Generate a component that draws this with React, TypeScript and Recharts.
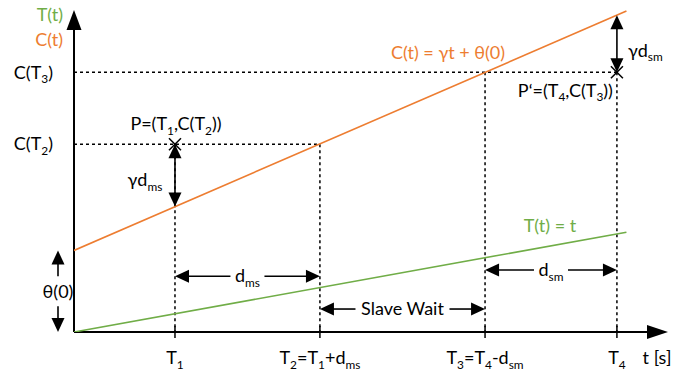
import React from "react";
import { Line, LineChart, ReferenceDot, ReferenceLine, XAxis, YAxis } from "recharts";

// times on the x axis (T1..T4) and tick labels
const tickTimes = [1.7, 4.14, 6.92, 9.14];
const tickLabels = ["T_{1}", "T_{2}=T_{1}+d_{ms}", "T_{3}=T_{4}-d_{sm}", "T_{4}"];
// clock value C(t) read at T1..T4
const clockLevels = [11.7, 17.5, 24.2, 29.5];
const theta0 = 7.6;
// the two lines
const clockLine = [
  { x: 0, y: 7.6 },
  { x: 9.3, y: 29.9 },
];
const timeLine = [
  { x: 0, y: 0 },
  { x: 9.3, y: 9.3 },
];
// heights of the horizontal interval arrows
const dmsLevel = 5.2;
const waitLevel = 2.14;
const dsmLevel = 5.78;

const [T1, T2, T3, T4] = tickTimes;
const [cT1, cT2, cT3, cT4] = clockLevels;

const FONT = "Lato, 'Noto Sans', sans-serif";
const ORANGE = "#ED7D31";
const GREEN = "#70AD47";
const SIZE = 18;

const parse = (s: string) =>
  s
    .split(/(_\{[^}]*\})/)
    .filter(Boolean)
    .map((p) => (p.startsWith("_{") ? { t: p.slice(2, -1), sub: true } : { t: p, sub: false }));

const Rich = ({ x, y, text, anchor = "middle", color = "#000", size = SIZE }: any) => {
  const parts = parse(text);
  let down = false;
  return (
    <text x={x} y={y + size * 0.35} textAnchor={anchor} fill={color} fontSize={size} fontFamily={FONT}>
      {parts.map((p, i) => {
        let dy = 0;
        if (p.sub && !down) {
          dy = size * 0.24;
          down = true;
        } else if (!p.sub && down) {
          dy = -size * 0.24;
          down = false;
        }
        return (
          <tspan key={i} dy={dy} fontSize={p.sub ? size * 0.66 : size}>
            {p.t}
          </tspan>
        );
      })}
    </text>
  );
};

const headPts = (tx: number, ty: number, fx: number, fy: number, len: number, hw: number) => {
  const d = Math.hypot(tx - fx, ty - fy) || 1;
  const ux = (tx - fx) / d;
  const uy = (ty - fy) / d;
  const bx = tx - ux * len;
  const by = ty - uy * len;
  return `${tx},${ty} ${bx - uy * hw},${by + ux * hw} ${bx + uy * hw},${by - ux * hw}`;
};

const arrow =
  ({ start = false, end = true, gap = 0, dx = 0, width = 1.6, len = 14, hw = 6.5, label = "" }: any) =>
  (p: any) => {
    const x1 = p.x1 + dx;
    const x2 = p.x2 + dx;
    const y1 = p.y1;
    const y2 = p.y2;
    const d = Math.hypot(x2 - x1, y2 - y1) || 1;
    const ux = (x2 - x1) / d;
    const uy = (y2 - y1) / d;
    const mx = (x1 + x2) / 2;
    const my = (y1 + y2) / 2;
    const sx1 = start ? x1 + ux * (len - 2) : x1;
    const sy1 = start ? y1 + uy * (len - 2) : y1;
    const sx2 = end ? x2 - ux * (len - 2) : x2;
    const sy2 = end ? y2 - uy * (len - 2) : y2;
    return (
      <g>
        {gap > 0 ? (
          <>
            <line x1={sx1} y1={sy1} x2={mx - ux * gap} y2={my - uy * gap} stroke="#000" strokeWidth={width} />
            <line x1={mx + ux * gap} y1={my + uy * gap} x2={sx2} y2={sy2} stroke="#000" strokeWidth={width} />
          </>
        ) : (
          <line x1={sx1} y1={sy1} x2={sx2} y2={sy2} stroke="#000" strokeWidth={width} />
        )}
        {start && <polygon points={headPts(x1, y1, x2, y2, len, hw)} fill="#000" />}
        {end && <polygon points={headPts(x2, y2, x1, y1, len, hw)} fill="#000" />}
        {label && <Rich x={mx} y={my} text={label} />}
      </g>
    );
  };

const cross = (p: any) => (
  <g stroke="#000" strokeWidth={1.5}>
    <line x1={p.cx - 6} y1={p.cy - 6} x2={p.cx + 6} y2={p.cy + 6} />
    <line x1={p.cx - 6} y1={p.cy + 6} x2={p.cx + 6} y2={p.cy - 6} />
  </g>
);

const textAt =
  (text: string, dx: number, dy: number, anchor = "middle", color = "#000") =>
  (p: any) =>
    <Rich x={p.cx + dx} y={p.cy + dy} text={text} anchor={anchor} color={color} />;

const tickAt = (label: string) => (p: any) =>
  (
    <g>
      <line x1={p.cx} y1={p.cy - 6} x2={p.cx} y2={p.cy + 6} stroke="#000" strokeWidth={1.5} />
      <Rich x={p.cx} y={p.cy + 26} text={label} />
    </g>
  );

const dash = { stroke: "#000", strokeWidth: 1.5, strokeDasharray: "3 3", ifOverflow: "visible" as const };

export default function App() {
  return (
    <div style={{ position: "absolute", left: 0, top: 0, background: "#fff" }}>
      <LineChart width={697} height={375} margin={{ top: 10, right: 29, bottom: 43, left: 74 }}>
        <XAxis type="number" dataKey="x" domain={[0, 10]} hide allowDataOverflow />
        <YAxis type="number" dataKey="y" domain={[0, 30]} hide allowDataOverflow />

        {/* dashed guides */}
        <ReferenceLine segment={[{ x: 0, y: cT3 }, { x: T4, y: cT3 }]} {...dash} />
        <ReferenceLine segment={[{ x: 0, y: cT2 }, { x: T2, y: cT2 }]} {...dash} />
        <ReferenceLine segment={[{ x: T1, y: cT2 }, { x: T1, y: 0 }]} {...dash} />
        <ReferenceLine segment={[{ x: T2, y: cT2 }, { x: T2, y: 0 }]} {...dash} />
        <ReferenceLine segment={[{ x: T3, y: cT3 }, { x: T3, y: 0 }]} {...dash} />
        <ReferenceLine segment={[{ x: T4, y: cT3 }, { x: T4, y: 0 }]} {...dash} />

        {/* axes */}
        <ReferenceLine segment={[{ x: 0, y: 0 }, { x: 0, y: 30 }]} ifOverflow="visible" shape={arrow({ width: 2, len: 20, hw: 7.5 })} />
        <ReferenceLine segment={[{ x: 0, y: 0 }, { x: 10, y: 0 }]} ifOverflow="visible" shape={arrow({ width: 2, len: 21, hw: 7 })} />

        <Line data={clockLine} dataKey="y" stroke={ORANGE} strokeWidth={1.6} dot={false} isAnimationActive={false} />
        <Line data={timeLine} dataKey="y" stroke={GREEN} strokeWidth={1.6} dot={false} isAnimationActive={false} />

        {/* annotation arrows */}
        <ReferenceLine segment={[{ x: T1, y: cT2 }, { x: T1, y: cT1 }]} ifOverflow="visible" shape={arrow({ start: true })} />
        <ReferenceLine segment={[{ x: T4, y: cT4 }, { x: T4, y: cT3 }]} ifOverflow="visible" shape={arrow({ start: true })} />
        <ReferenceLine segment={[{ x: 0, y: 0 }, { x: 0, y: theta0 }]} ifOverflow="visible" shape={arrow({ start: true, dx: -16, gap: 15, label: "θ(0)" })} />
        <ReferenceLine segment={[{ x: T1, y: dmsLevel }, { x: T2, y: dmsLevel }]} ifOverflow="visible" shape={arrow({ start: true, gap: 17, label: "d_{ms}" })} />
        <ReferenceLine segment={[{ x: T2, y: waitLevel }, { x: T3, y: waitLevel }]} ifOverflow="visible" shape={arrow({ start: true, gap: 47, label: "Slave Wait" })} />
        <ReferenceLine segment={[{ x: T3, y: dsmLevel }, { x: T4, y: dsmLevel }]} ifOverflow="visible" shape={arrow({ start: true, gap: 17, label: "d_{sm}" })} />

        {/* markers */}
        <ReferenceDot x={T1} y={cT2} r={0} ifOverflow="visible" shape={cross} />
        <ReferenceDot x={T4} y={cT3} r={0} ifOverflow="visible" shape={cross} />

        {/* ticks */}
        {tickTimes.map((t, i) => (
          <ReferenceDot key={t} x={t} y={0} r={0} ifOverflow="visible" shape={tickAt(tickLabels[i])} />
        ))}

        {/* texts */}
        <ReferenceDot x={10} y={0} r={0} ifOverflow="visible" shape={textAt("t [s]", -11, 26)} />
        <ReferenceDot x={0} y={30} r={0} ifOverflow="visible" shape={textAt("T(t)", -11, 5, "end", GREEN)} />
        <ReferenceDot x={0} y={30} r={0} ifOverflow="visible" shape={textAt("C(t)", -11, 30, "end", ORANGE)} />
        <ReferenceDot x={0} y={cT3} r={0} ifOverflow="visible" shape={textAt("C(T_{3})", -21, 0, "end")} />
        <ReferenceDot x={0} y={cT2} r={0} ifOverflow="visible" shape={textAt("C(T_{2})", -21, 0, "end")} />
        <ReferenceDot x={T1} y={cT2} r={0} ifOverflow="visible" shape={textAt("P=(T_{1},C(T_{2}))", 1, -20)} />
        <ReferenceDot x={T1} y={cT2} r={0} ifOverflow="visible" shape={textAt("γd_{ms}", -30, 36)} />
        <ReferenceDot x={T4} y={cT3} r={0} ifOverflow="visible" shape={textAt("γd_{sm}", 11, -22, "start")} />
        <ReferenceDot x={T4} y={cT3} r={0} ifOverflow="visible" shape={textAt("P‘=(T_{4},C(T_{3}))", -4, 18, "end")} />
        <ReferenceDot x={T3} y={cT3} r={0} ifOverflow="visible" shape={textAt("C(t) = γt + θ(0)", -37, -20, "middle", ORANGE)} />
        <ReferenceDot x={T4} y={T4} r={0} ifOverflow="visible" shape={textAt("T(t) = t", -67, -8, "middle", GREEN)} />
      </LineChart>
    </div>
  );
}
